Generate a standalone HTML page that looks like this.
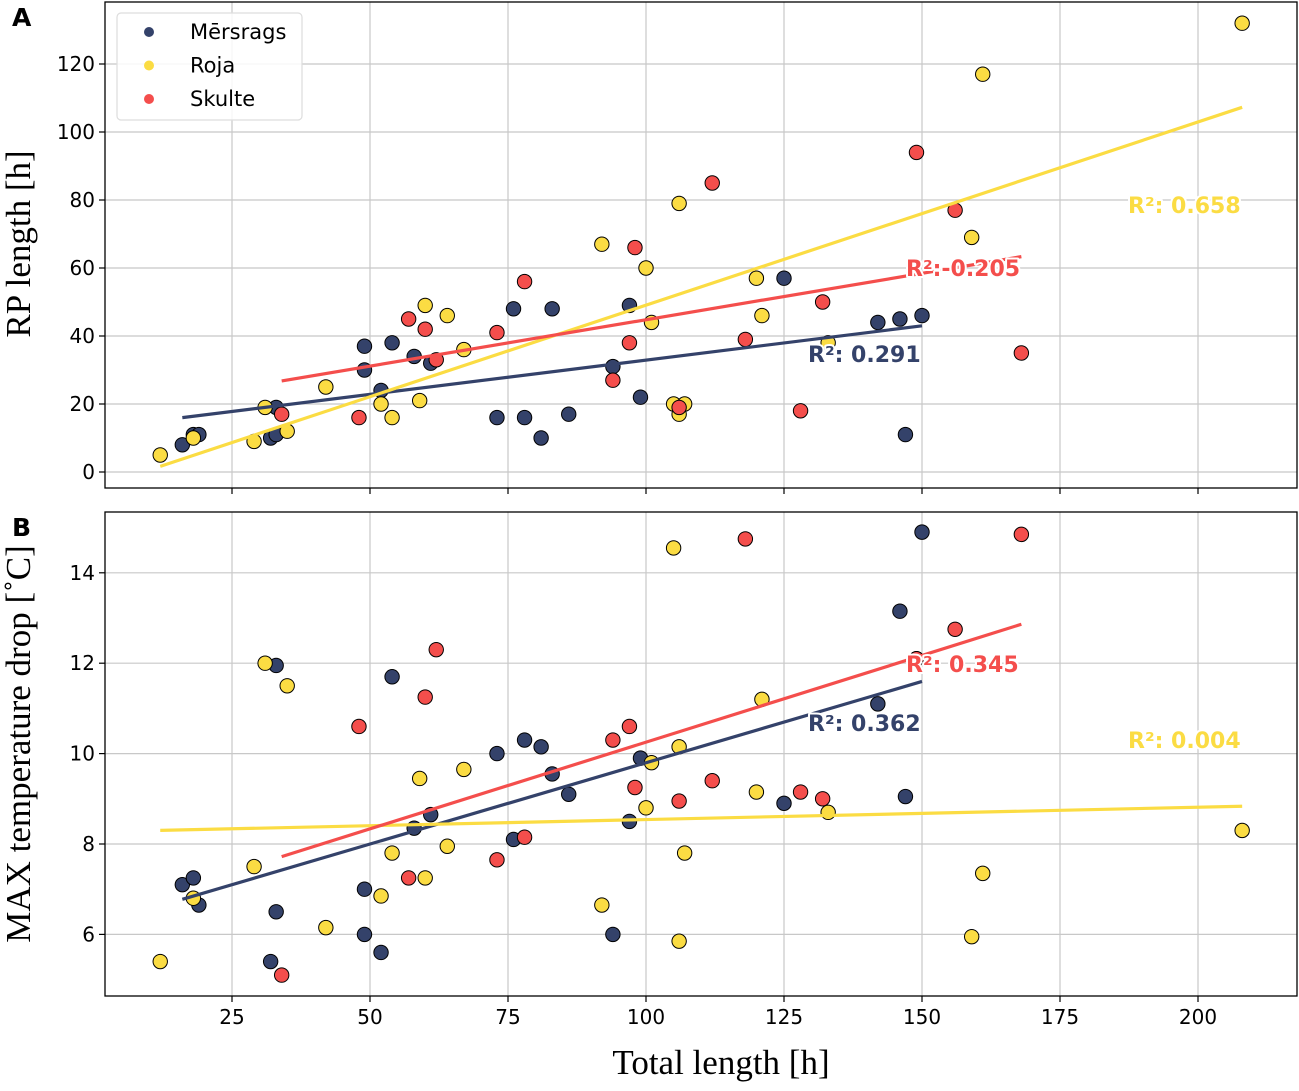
<!DOCTYPE html>
<html><head><meta charset="utf-8"><style>
body{margin:0;background:#fff}
svg text{font-family:"DejaVu Sans","Liberation Sans",sans-serif}
.tick{font-size:20px;fill:#000}
.lab{font-family:"Liberation Serif","DejaVu Serif",serif !important;font-size:35px}
.r2{font-size:22px;font-weight:bold;stroke:#fff;stroke-width:4px;paint-order:stroke;stroke-linejoin:round}
</style></head><body>
<svg id="chart" width="1299" height="1086" xmlns="http://www.w3.org/2000/svg"></svg>
<script>
const seriesNames=["Mērsrags","Roja","Skulte"];
const seriesColors=["#34426a","#fbdc43","#f44e4c"];
const mersX=[16,18,19,32,33,33,49,49,52,54,58,61,73,76,78,81,83,86,94,97,99,125,142,146,147,150,149];
const mersRP=[8,11,11,10,19,11,37,30,24,38,34,32,16,48,16,10,48,17,31,49,22,57,44,45,11,46,null];
const mersT=[7.1,7.25,6.65,5.4,11.95,6.5,7.0,6.0,5.6,11.7,8.35,8.65,10.0,8.1,10.3,10.15,9.55,9.1,6.0,8.5,9.9,8.9,11.1,13.15,9.05,14.9,12.1];
const rojaX=[12,18,29,31,35,42,52,54,59,60,64,67,92,100,101,105,106,106,107,120,121,133,159,161,208];
const rojaRP=[5,10,9,19,12,25,20,16,21,49,46,36,67,60,44,20,79,17,20,57,46,38,69,117,132];
const rojaT=[5.4,6.8,7.5,12.0,11.5,6.15,6.85,7.8,9.45,7.25,7.95,9.65,6.65,8.8,9.8,14.55,10.15,5.85,7.8,9.15,11.2,8.7,5.95,7.35,8.3];
const skulX=[34,48,57,60,62,73,78,94,97,98,106,112,118,128,132,149,156,168];
const skulRP=[17,16,45,42,33,41,56,27,38,66,19,85,39,18,50,94,77,35];
const skulT=[5.1,10.6,7.25,11.25,12.3,7.65,8.15,10.3,10.6,9.25,8.95,9.4,14.75,9.15,9.0,12.1,12.75,14.85];
const r2A=["R²: 0.291","R²: 0.658","R²:-0.205"];
const r2B=["R²: 0.362","R²: 0.004","R²: 0.345"];
const xTicks=[25,50,75,100,125,150,175,200];
const yTicksA=[0,20,40,60,80,100,120];
const yTicksB=[6,8,10,12,14];

const NS="http://www.w3.org/2000/svg";
const svg=document.getElementById('chart');
function mk(t,a,p){const e=document.createElementNS(NS,t);for(const k in a)e.setAttribute(k,a[k]);(p||svg).appendChild(e);return e;}
const L=105,R=1297;
const xs=v=>94+v*5.52;
const ysA=v=>472-v*3.4;
const ysB=v=>844-(v-8)*45.2;
const panels=[{top:2,bot:488,ys:ysA,ticks:yTicksA,ix:1,r2:r2A,name:"panel-a",letter:"A",
  lpos:[[808,362],[1128,213],[906,276]]},
 {top:512,bot:996,ys:ysB,ticks:yTicksB,ix:2,r2:r2B,name:"panel-b",letter:"B",
  lpos:[[808,731],[1128,748],[906,672]]}];
const data=[[mersX,mersRP,mersT],[rojaX,rojaRP,rojaT],[skulX,skulRP,skulT]];
function fit(x,y){let n=0,sx=0,sy=0,sxx=0,sxy=0;for(let i=0;i<x.length;i++){if(y[i]==null)continue;n++;sx+=x[i];sy+=y[i];sxx+=x[i]*x[i];sxy+=x[i]*y[i];}
 const b=(n*sxy-sx*sy)/(n*sxx-sx*sx);return [b,(sy-b*sx)/n];}
panels.forEach(P=>{
 const g=mk('g',{});
 
 
 xTicks.forEach(t=>{const x=xs(t);mk('line',{x1:x,x2:x,y1:P.top,y2:P.bot,stroke:'#c8c8c8','stroke-width':1.2},g);
   mk('line',{x1:x,x2:x,y1:P.bot,y2:P.bot+6,stroke:'#000','stroke-width':1.2},g);
   if(P.ix==2){const tx=mk('text',{x:x,y:P.bot+28,'text-anchor':'middle',class:'tick'},g);tx.textContent=t;
     }});
 P.ticks.forEach(t=>{const y=P.ys(t);mk('line',{x1:L,x2:R,y1:y,y2:y,stroke:'#c8c8c8','stroke-width':1.2},g);
   mk('line',{x1:L-6,x2:L,y1:y,y2:y,stroke:'#000','stroke-width':1.2},g);
   const tx=mk('text',{x:L-10,y:y+7,'text-anchor':'end',class:'tick'},g);tx.textContent=t;
   });
 data.forEach((d,s)=>{const xv=d[0],yv=d[P.ix];
   const sg=mk('g',{},g);
   xv.forEach((x,i)=>{if(yv[i]==null)return;const c=mk('circle',{cx:xs(x),cy:P.ys(yv[i]),r:7.2,fill:seriesColors[s],stroke:'#000','stroke-width':1},sg);
     });});
 data.forEach((d,s)=>{const xv=d[0],yv=d[P.ix];const [b,a]=fit(xv,yv);
   const xx=xv.filter((x,i)=>yv[i]!=null);const x0=Math.min(...xx),x1=Math.max(...xx);
   const ln=mk('line',{x1:xs(x0),y1:P.ys(a+b*x0),x2:xs(x1),y2:P.ys(a+b*x1),stroke:seriesColors[s],'stroke-width':3.2},g);
   
   const t=mk('text',{x:P.lpos[s][0],y:P.lpos[s][1],fill:seriesColors[s],class:'r2'},g);t.textContent=P.r2[s];
   });
 const fr=mk('rect',{x:L,y:P.top,width:R-L,height:P.bot-P.top,fill:'none',stroke:'#000','stroke-width':1.3},g);
 
 const lt=mk('text',{x:12,y:P.top+24,'font-size':25,'font-weight':'bold'},g);lt.textContent=P.letter;
 
});
const lg=mk('g',{});


mk('rect',{x:117,y:13,width:185,height:107,rx:4,fill:'#fff','fill-opacity':0.85,stroke:'#ddd','stroke-width':1.2},lg);
seriesNames.forEach((n,i)=>{const y=32+i*33.5;mk('circle',{cx:149,cy:y,r:5,fill:seriesColors[i]},lg);
 const t=mk('text',{x:190,y:y+7,'font-size':21},lg);t.textContent=n;
 });
const xt=mk('text',{x:721,y:1074,'text-anchor':'middle',class:'lab'});xt.textContent="Total length [h]";

const ya=mk('text',{x:0,y:0,'text-anchor':'middle',class:'lab',transform:'translate(30,244) rotate(-90)'});ya.textContent="RP length [h]";

const yb=mk('text',{x:0,y:0,'text-anchor':'middle',class:'lab',transform:'translate(30,744) rotate(-90)'});yb.textContent="MAX temperature drop [˚C]";

</script>
</body></html>
